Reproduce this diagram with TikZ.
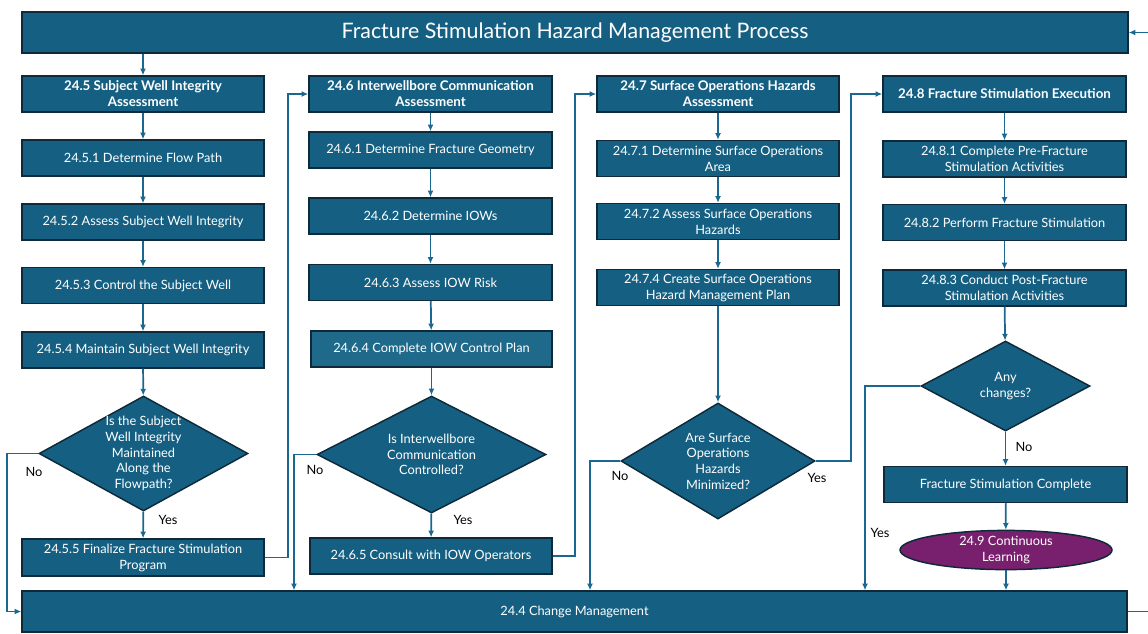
\documentclass[tikz,border=0pt]{standalone}
\usepackage{fontspec}
\setmainfont{Lato}
\usetikzlibrary{shapes.geometric,arrows.meta}
\definecolor{boxblue}{HTML}{156082}
\definecolor{boxblueL}{HTML}{1F6A8A}
\definecolor{bdr}{HTML}{0E2A3A}
\definecolor{lineblue}{HTML}{1A6790}
\definecolor{purp}{HTML}{78206E}
\tikzset{
  pbox/.style={draw=bdr, fill=boxblue, line width=1.1pt, text=white, align=center,
    inner sep=1pt, font=\fontsize{9.6}{12}\selectfont},
  w242/.style={minimum width=181.5pt, minimum height=27pt},
  hdr/.style={pbox, w242, font=\fontsize{10}{12}\selectfont\bfseries},
  diam/.style={shape=diamond, draw=bdr, fill=boxblue, line width=1.1pt, inner sep=0pt},
  dtext/.style={text=white, align=center, font=\fontsize{9.6}{11.7}\selectfont, inner sep=0pt},
  conn/.style={draw=lineblue, line width=1.3pt, -{Latex[length=5pt,width=4.5pt]}},
  lbl/.style={text=black, font=\fontsize{9.6}{11}\selectfont, inner sep=0pt},
}
\begin{document}
\begin{tikzpicture}[x=0.75pt,y=-0.75pt]
\useasboundingbox (0,0) rectangle (1148,633);
% title
\node[pbox, minimum width=829.5pt, minimum height=30.75pt, font=\fontsize{16}{19}\selectfont] (title) at (575,32.5) {Fracture Stimulation Hazard Management Process};
% column 1
\node[hdr] (h5) at (143,94) {24.5 Subject Well Integrity\\Assessment};
\node[pbox,w242] (b51) at (143,158) {24.5.1 Determine Flow Path};
\node[pbox,w242] (b52) at (143,222) {24.5.2 Assess Subject Well Integrity};
\node[pbox,w242] (b53) at (143,285.5) {24.5.3 Control the Subject Well};
\node[pbox,w242] (b54) at (143,350) {24.5.4 Maintain Subject Well Integrity};
\node[diam, minimum width=156.75pt, minimum height=86.25pt] (d1) at (143.5,453.5) {};
\node[dtext] at (d1) {Is the Subject\\Well Integrity\\Maintained\\Along the\\Flowpath?};
\node[pbox,w242,minimum height=27.75pt] (b55) at (143,557.5) {24.5.5 Finalize Fracture Stimulation\\Program};
% column 2
\node[hdr, minimum width=182.25pt] (h6) at (430.5,94) {24.6 Interwellbore Communication\\Assessment};
\node[pbox,w242,minimum width=182.25pt] (b61) at (430.5,150) {24.6.1 Determine Fracture Geometry};
\node[pbox,w242,minimum width=182.25pt] (b62) at (430.5,216) {24.6.2 Determine IOWs};
\node[pbox,w242,minimum width=182.25pt] (b63) at (430.5,282.5) {24.6.3 Assess IOW Risk};
\node[pbox,w242,minimum width=180.75pt,fill=boxblueL] (b64) at (431.5,349) {24.6.4 Complete IOW Control Plan};
\node[diam, minimum width=171.75pt, minimum height=87.75pt] (d2) at (431.5,454.5) {};
\node[dtext] at (d2) {Is Interwellbore\\Communication\\Controlled?};
\node[pbox,w242] (b65) at (431,556) {24.6.5 Consult with IOW Operators};
% column 3
\node[hdr] (h7) at (718,94) {24.7 Surface Operations Hazards\\Assessment};
\node[pbox,w242] (b71) at (718,158.5) {24.7.1 Determine Surface Operations\\Area};
\node[pbox,w242] (b72) at (718,221.5) {24.7.2 Assess Surface Operations\\Hazards};
\node[pbox,w242] (b74) at (718,287.5) {24.7.4 Create Surface Operations\\Hazard Management Plan};
\node[diam, minimum width=145.5pt, minimum height=87pt] (d3) at (718,461) {};
\node[dtext] at (d3) {Are Surface\\Operations\\Hazards\\Minimized?};
% column 4
\node[hdr, minimum width=182.25pt] (h8) at (1004.5,94) {24.8 Fracture Stimulation Execution};
\node[pbox,w242,minimum width=182.25pt] (b81) at (1004.5,159) {24.8.1 Complete Pre-Fracture\\Stimulation Activities};
\node[pbox,w242,minimum width=182.25pt] (b82) at (1004.5,222.5) {24.8.2 Perform Fracture Stimulation};
\node[pbox,w242,minimum width=182.25pt] (b83) at (1004.5,288) {24.8.3 Conduct Post-Fracture\\Stimulation Activities};
\node[diam, minimum width=126.75pt, minimum height=67.5pt] (d4) at (1005.5,386) {};
\node[dtext] at (d4) {Any\\changes?};
\node[pbox,w242,minimum width=182.25pt] (fsc) at (1005.5,484.5) {Fracture Stimulation Complete};
\node[pbox, shape=ellipse, fill=purp, minimum width=159pt, minimum height=27pt, inner sep=0pt] (ell) at (1006,550) {24.9 Continuous\\Learning};
% change management
\node[pbox, minimum width=828.75pt, minimum height=30.75pt] (cm) at (574.5,611.5) {24.4 Change Management};
% helper coordinates
\coordinate (x2) at (294,0);
\coordinate (x3) at (590,0);
\coordinate (x4) at (865,0);
% connectors column 1
\draw[conn] (h5.north |- title.south) -- (h5.north);
\draw[conn] (h5) -- (b51);
\draw[conn] (b51) -- (b52);
\draw[conn] (b52) -- (b53);
\draw[conn] (b53) -- (b54);
\draw[conn] (b54) -- (d1);
\draw[conn] (d1) -- (b55);
\draw[conn] (d1.west) -- ++(-31,0) |- (cm.west);
\draw[conn] (b55.east) -- ++(23,0) |- (h6.west);
% column 2
\draw[conn] (h6) -- (b61);
\draw[conn] (b61) -- (b62);
\draw[conn] (b62) -- (b63);
\draw[conn] (b63) -- (b64);
\draw[conn] (b64) -- (d2);
\draw[conn] (d2) -- (b65);
\draw[conn] (d2.west) -| (x2 |- cm.north);
\draw[conn] (b65.east) -- ++(22,0) |- (h7.west);
% column 3
\draw[conn] (h7) -- (b71);
\draw[conn] (b71) -- (b72);
\draw[conn] (b72) -- (b74);
\draw[conn] (b74) -- (d3);
\draw[conn] (d3.west) -| (x3 |- cm.north);
\draw[conn] (d3.east) -- ++(35,0) |- (h8.west);
% column 4
\draw[conn] (h8) -- (b81);
\draw[conn] (b81) -- (b82);
\draw[conn] (b82) -- (b83);
\draw[conn] (b83) -- (d4);
\draw[conn] (d4) -- (fsc);
\draw[conn] (fsc) -- (ell);
\draw[conn] (ell.south) -- (ell.south |- cm.north);
\draw[conn] (d4.west) -| (x4 |- cm.north);
% loop back
\draw[conn] (cm.east) -- ++(40,0) |- (title.east);
% labels
\node[lbl] at (34,472) {No};
\node[lbl] at (168,520) {Yes};
\node[lbl] at (315,470) {No};
\node[lbl] at (463,520) {Yes};
\node[lbl] at (620,476) {No};
\node[lbl] at (817,478) {Yes};
\node[lbl] at (1024,447) {No};
\node[lbl] at (880,533) {Yes};
\end{tikzpicture}
\end{document}
